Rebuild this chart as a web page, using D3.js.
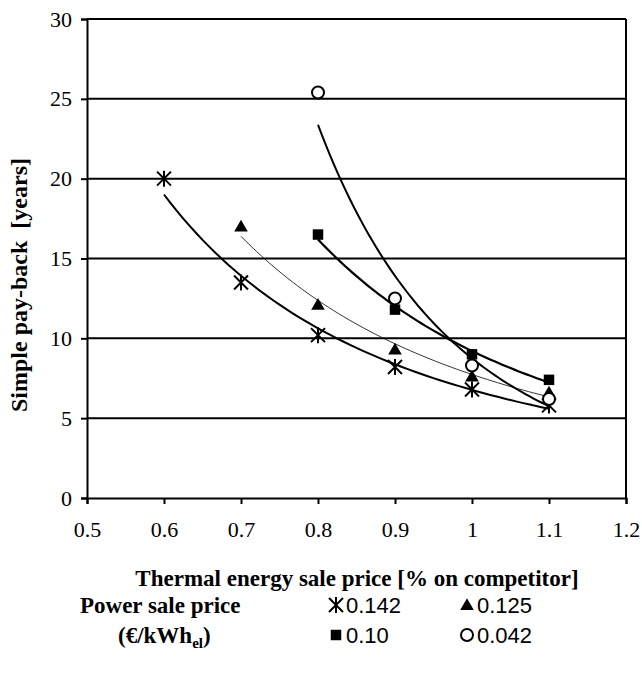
<!DOCTYPE html>
<html>
<head>
<script src="https://d3js.org/d3.v7.min.js"></script>
<style>
body { margin: 0; background: #fff; }
svg text { font-family: "Liberation Serif", "Times New Roman", serif; fill: #000; }
</style>
</head>
<body>
<script>
// thermal energy sale price (fraction of competitor)
var xValues = [0.6, 0.7, 0.8, 0.9, 1.0, 1.1];
// simple pay-back [years] per power sale price
var price142 = [20.0, 13.5, 10.2, 8.2, 6.8, 5.8];
var price125 = [null, 17.0, 12.1, 9.3, 7.6, 6.6];
var price100 = [null, null, 16.5, 11.8, 9.0, 7.4];
var price042 = [null, null, 25.4, 12.5, 8.3, 6.2];
var seriesLabels = ["0.142", "0.125", "0.10", "0.042"];
var xTicks = [0.5, 0.6, 0.7, 0.8, 0.9, 1, 1.1, 1.2];
var yTicks = [0, 5, 10, 15, 20, 25, 30];

var width = 642, height = 676;
var plotL = 87, plotR = 626, plotT = 19, plotB = 498;

var svg = d3.select("body").append("svg")
    .attr("width", width)
    .attr("height", height);

var x = d3.scaleLinear().domain([0.5, 1.2]).range([plotL, plotR]);
var y = d3.scaleLinear().domain([0, 30]).range([plotB, plotT]);

// horizontal gridlines
svg.append("g").selectAll("line")
    .data(yTicks.filter(function(d) { return d > 0; }))
    .enter().append("line")
    .attr("x1", plotL).attr("x2", plotR)
    .attr("y1", function(d) { return y(d); })
    .attr("y2", function(d) { return y(d); })
    .attr("stroke", "#000").attr("stroke-width", 2);

// right border
svg.append("line")
    .attr("x1", plotR).attr("x2", plotR)
    .attr("y1", plotT).attr("y2", plotB)
    .attr("stroke", "#000").attr("stroke-width", 2);

// axes
var yAxis = svg.append("g")
    .attr("transform", "translate(" + plotL + ",0)")
    .call(d3.axisLeft(y).tickValues(yTicks).tickSize(6).tickPadding(9).tickFormat(d3.format("d")));
var xAxis = svg.append("g")
    .attr("transform", "translate(0," + plotB + ")")
    .call(d3.axisBottom(x).tickValues(xTicks).tickSize(6).tickPadding(17).tickFormat(function(d) { return String(d); }));

[yAxis, xAxis].forEach(function(ax) {
    ax.select(".domain").attr("stroke", "#000").attr("stroke-width", 2);
    ax.selectAll(".tick line").attr("stroke", "#000").attr("stroke-width", 2);
    ax.selectAll(".tick text")
        .style("font-family", '"Liberation Serif", serif')
        .style("font-size", "22px")
        .attr("fill", "#000");
});

// power trend line fit (like excel)
function powerFit(xs, ys) {
    var pts = [];
    xs.forEach(function(v, i) { if (ys[i] != null) pts.push([Math.log(v), Math.log(ys[i])]); });
    var mx = d3.mean(pts, function(p) { return p[0]; });
    var my = d3.mean(pts, function(p) { return p[1]; });
    var sxy = d3.sum(pts, function(p) { return (p[0] - mx) * (p[1] - my); });
    var sxx = d3.sum(pts, function(p) { return (p[0] - mx) * (p[0] - mx); });
    var b = sxy / sxx;
    var a = Math.exp(my - b * mx);
    var x0 = Math.exp(pts[0][0]), x1 = Math.exp(pts[pts.length - 1][0]);
    var curve = [];
    for (var k = 0; k <= 60; k++) {
        var xv = x0 + (x1 - x0) * k / 60;
        curve.push([xv, a * Math.pow(xv, b)]);
    }
    return curve;
}

var line = d3.line()
    .x(function(d) { return x(d[0]); })
    .y(function(d) { return y(d[1]); });

var series = [
    { values: price142, shape: "star", lw: 2 },
    { values: price125, shape: "triangle", lw: 0.8 },
    { values: price100, shape: "square", lw: 2.2 },
    { values: price042, shape: "circle", lw: 2 }
];

series.forEach(function(s) {
    svg.append("path")
        .attr("d", line(powerFit(xValues, s.values)))
        .attr("fill", "none")
        .attr("stroke", "#000")
        .attr("stroke-width", s.lw);
});

function drawMarker(g, shape, cx, cy) {
    if (shape == "star") {
        var r = 7;
        g.append("path")
            .attr("d", "M" + (cx - r) + "," + (cy - r) + "L" + (cx + r) + "," + (cy + r) +
                "M" + (cx - r) + "," + (cy + r) + "L" + (cx + r) + "," + (cy - r) +
                "M" + cx + "," + (cy - r - 1) + "L" + cx + "," + (cy + r + 1))
            .attr("stroke", "#000").attr("stroke-width", 2).attr("fill", "none");
    } else if (shape == "triangle") {
        g.append("path")
            .attr("d", d3.symbol().type(d3.symbolTriangle).size(80)())
            .attr("transform", "translate(" + cx + "," + (cy + 1) + ")")
            .attr("fill", "#000");
    } else if (shape == "square") {
        g.append("path")
            .attr("d", d3.symbol().type(d3.symbolSquare).size(110)())
            .attr("transform", "translate(" + cx + "," + cy + ")")
            .attr("fill", "#000");
    } else {
        g.append("circle")
            .attr("cx", cx).attr("cy", cy).attr("r", 6)
            .attr("fill", "#fff").attr("stroke", "#000").attr("stroke-width", 2);
    }
}

var marks = svg.append("g");
series.forEach(function(s) {
    s.values.forEach(function(v, i) {
        if (v != null) drawMarker(marks, s.shape, x(xValues[i]), y(v));
    });
});

// axis titles
svg.append("text")
    .attr("x", 357)
    .attr("y", 586)
    .attr("text-anchor", "middle")
    .style("font-size", "23px")
    .style("font-weight", "bold")
    .text("Thermal energy sale price [% on competitor]");

svg.append("text")
    .attr("transform", "translate(27," + 285 + ") rotate(-90)")
    .attr("text-anchor", "middle")
    .style("font-size", "24px")
    .style("font-weight", "bold")
    .style("white-space", "pre")
    .text("Simple pay-back  [years]");

// legend
svg.append("text")
    .attr("x", 80).attr("y", 613)
    .style("font-size", "23px").style("font-weight", "bold")
    .text("Power sale price");
var unit = svg.append("text")
    .attr("x", 118).attr("y", 643)
    .style("font-size", "23px").style("font-weight", "bold");
unit.append("tspan").text("(€/kWh");
unit.append("tspan").attr("dy", 5).style("font-size", "15px").text("el");
unit.append("tspan").attr("dy", -5).text(")");

var legendPos = [[336, 605], [467, 605], [336, 635], [467, 635]];
series.forEach(function(s, i) {
    var p = legendPos[i];
    drawMarker(svg, s.shape, p[0], p[1]);
    svg.append("text")
        .attr("x", p[0] + 10).attr("y", p[1] + 8)
        .style("font-family", '"Liberation Sans", Arial, sans-serif')
        .style("font-size", "22px")
        .text(seriesLabels[i]);
});
</script>
</body>
</html>
